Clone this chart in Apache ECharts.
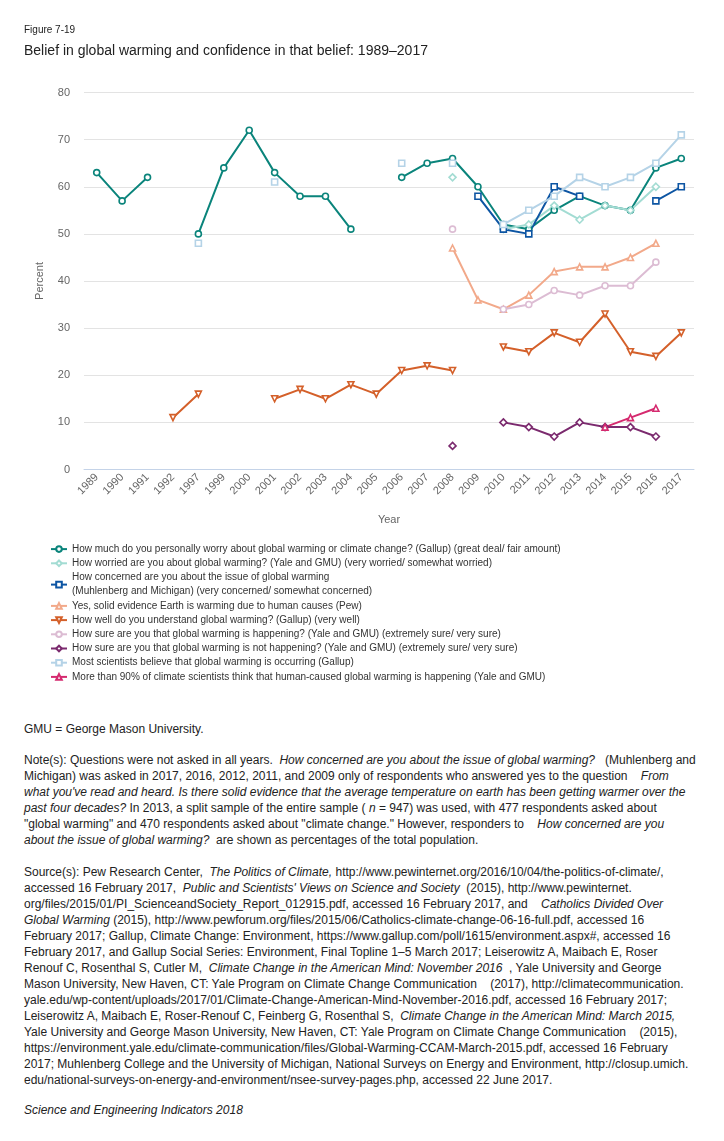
<!DOCTYPE html>
<html>
<head>
<meta charset="utf-8">
<script src="https://cdn.jsdelivr.net/npm/echarts@6/dist/echarts.min.js"></script>
<style>
html,body{margin:0;padding:0;background:#fff;}
#chart{position:absolute;left:0;top:0;width:724px;height:720px;}
#notes{position:absolute;left:24px;top:721px;width:700px;font-family:"Liberation Sans",Arial,sans-serif;font-size:12px;line-height:16px;color:#222;white-space:nowrap;}
#notes p{margin:0 0 15px 0;}
</style>
</head>
<body>
<div id="chart"></div>
<div id="notes">
<p>GMU = George Mason University.</p>
<p style="margin-bottom:16px">Note(s): Questions were not asked in all years. &nbsp;<i>How concerned are you about the issue of global warming?</i> &nbsp; (Muhlenberg and<br>
Michigan) was asked in 2017, 2016, 2012, 2011, and 2009 only of respondents who answered yes to the question &nbsp;&nbsp; <i>From</i><br>
<i>what you've read and heard. Is there solid evidence that the average temperature on earth has been getting warmer over the</i><br>
<i>past four decades?</i> In 2013, a split sample of the entire sample ( <i>n</i> = 947) was used, with 477 respondents asked about<br>
"global warming" and 470 respondents asked about "climate change." However, responders to &nbsp;&nbsp; <i>How concerned are you</i><br>
<i>about the issue of global warming?</i> &nbsp;are shown as percentages of the total population.</p>
<p style="margin-bottom:14px">Source(s): Pew Research Center, &nbsp;<i>The Politics of Climate,</i> http://www.pewinternet.org/2016/10/04/the-politics-of-climate/,<br>
accessed 16 February 2017, &nbsp;<i>Public and Scientists' Views on Science and Society</i> &nbsp;(2015), http://www.pewinternet.<br>
org/files/2015/01/PI_ScienceandSociety_Report_012915.pdf, accessed 16 February 2017, and &nbsp;&nbsp; <i>Catholics Divided Over</i><br>
<i>Global Warming</i> (2015), http://www.pewforum.org/files/2015/06/Catholics-climate-change-06-16-full.pdf, accessed 16<br>
February 2017; Gallup, Climate Change: Environment, https://www.gallup.com/poll/1615/environment.aspx#, accessed 16<br>
February 2017, and Gallup Social Series: Environment, Final Topline 1–5 March 2017; Leiserowitz A, Maibach E, Roser<br>
Renouf C, Rosenthal S, Cutler M, &nbsp;<i>Climate Change in the American Mind: November 2016</i> &nbsp;, Yale University and George<br>
Mason University, New Haven, CT: Yale Program on Climate Change Communication &nbsp;&nbsp; (2017), http://climatecommunication.<br>
yale.edu/wp-content/uploads/2017/01/Climate-Change-American-Mind-November-2016.pdf, accessed 16 February 2017;<br>
Leiserowitz A, Maibach E, Roser-Renouf C, Feinberg G, Rosenthal S, &nbsp;<i>Climate Change in the American Mind: March 2015,</i><br>
Yale University and George Mason University, New Haven, CT: Yale Program on Climate Change Communication &nbsp;&nbsp; (2015),<br>
https://environment.yale.edu/climate-communication/files/Global-Warming-CCAM-March-2015.pdf, accessed 16 February<br>
2017; Muhlenberg College and the University of Michigan, National Surveys on Energy and Environment, http://closup.umich.<br>
edu/national-surveys-on-energy-and-environment/nsee-survey-pages.php, accessed 22 June 2017.</p>
<p><i>Science and Engineering Indicators 2018</i></p>
</div>
<script>
var years = ['1989','1990','1991','1992','1997','1999','2000','2001','2002','2003','2004','2005','2006','2007','2008','2009','2010','2011','2012','2013','2014','2015','2016','2017'];
var yTicks = [0,10,20,30,40,50,60,70,80];

//                     1989 1990 1991 1992 1997 1999 2000 2001 2002 2003 2004 2005 2006 2007 2008 2009 2010 2011 2012 2013 2014 2015 2016 2017
var gallupWorry     = [63,  57,  62,  null,50,  64,  72,  63,  58,  58,  51,  null,62,  65,  66,  60,  52,  51,  55,  58,  56,  55,  64,  66];
var yaleWorried     = [null,null,null,null,null,null,null,null,null,null,null,null,null,null,62,  null,51,  52,  56,  53,  56,  55,  60,  null];
var muhlenConcern   = [null,null,null,null,null,null,null,null,null,null,null,null,null,null,null,58,  51,  50,  60,  58,  null,null,57,  60];
var pewEvidence     = [null,null,null,null,null,null,null,null,null,null,null,null,null,null,47,  36,  34,  37,  42,  43,  43,  45,  48,  null];
var gallupUnderstand= [null,null,null,11,  16,  null,null,15,  17,  15,  18,  16,  21,  22,  21,  null,26,  25,  29,  27,  33,  25,  24,  29];
var yaleSureYes     = [null,null,null,null,null,null,null,null,null,null,null,null,null,null,51,  null,34,  35,  38,  37,  39,  39,  44,  null];
var yaleSureNo      = [null,null,null,null,null,null,null,null,null,null,null,null,null,null,5,   null,10,  9,   7,   10,  9,   9,   7,   null];
var gallupScientists= [null,null,null,null,48,  null,null,61,  null,null,null,null,65,  null,65,  null,52,  55,  58,  62,  60,  62,  65,  71];
var yale90pct       = [null,null,null,null,null,null,null,null,null,null,null,null,null,null,null,null,null,null,null,null,9,   11,  13,  null];

var names = [
  'How much do you personally worry about global warming or climate change? (Gallup) (great deal/ fair amount)',
  'How worried are you about global warming? (Yale and GMU) (very worried/ somewhat worried)',
  'How concerned are you about the issue of global warming\n(Muhlenberg and Michigan) (very concerned/ somewhat concerned)',
  'Yes, solid evidence Earth is warming due to human causes (Pew)',
  'How well do you understand global warming? (Gallup) (very well)',
  'How sure are you that global warming is happening? (Yale and GMU) (extremely sure/ very sure)',
  'How sure are you that global warming is not happening? (Yale and GMU) (extremely sure/ very sure)',
  'Most scientists believe that global warming is occurring (Gallup)',
  'More than 90% of climate scientists think that human-caused global warming is happening (Yale and GMU)'
];
var colors = ['#0a847b','#a3dcd3','#0d55a3','#f2a98a','#d4602a','#dcbcd3','#7b2a6e','#b5d3e7','#d52a6f'];
var symbols = ['circle','diamond','rect','triangle','path://M0,0L10,0L5,9Z','circle','diamond','rect','triangle'];
var datas = [gallupWorry,yaleWorried,muhlenConcern,pewEvidence,gallupUnderstand,yaleSureYes,yaleSureNo,gallupScientists,yale90pct];

var series = names.map(function(n,i){
  return {
    name:n, type:'line', data:datas[i], connectNulls:false,
    symbol:symbols[i], symbolSize:(symbols[i]==='diamond'?7:6), showSymbol:true, showAllSymbol:true,
    lineStyle:{color:colors[i], width:2},
    itemStyle:{color:'#fff', borderColor:colors[i], borderWidth:1.6},
    emphasis:{disabled:true}, animation:false
  };
});

var chart = echarts.init(document.getElementById('chart'), null, {renderer:'canvas'});
chart.setOption({
  animation:false,
  textStyle:{fontFamily:'Liberation Sans, Arial, sans-serif'},
  title:[
    {text:'Figure 7-19', left:19, top:20, textStyle:{fontSize:10, fontWeight:'normal', color:'#222'}},
    {text:'Belief in global warming and confidence in that belief: 1989–2017', left:19, top:39, textStyle:{fontSize:14, fontWeight:'normal', color:'#222'}}
  ],
  grid:{left:84, right:30, top:92.5, bottom:250.5},
  xAxis:{
    type:'category', data:years, boundaryGap:true,
    name:'Year', nameLocation:'middle', nameGap:45, nameTextStyle:{color:'#666', fontSize:11},
    axisLine:{lineStyle:{color:'#c4d3e8'}},
    axisTick:{alignWithLabel:true, length:6, lineStyle:{color:'#c4d3e8'}},
    axisLabel:{rotate:45, color:'#666', fontSize:11, margin:6, interval:0}
  },
  yAxis:{
    type:'value', min:0, max:80, interval:10,
    name:'Percent', nameLocation:'middle', nameGap:39, nameTextStyle:{color:'#666', fontSize:11},
    axisLine:{show:false}, axisTick:{show:false},
    axisLabel:{color:'#666', fontSize:11, margin:14},
    splitLine:{lineStyle:{color:'#e3e3e3'}}
  },
  legend:{
    orient:'vertical', left:45, top:537, height:170, itemWidth:16, itemHeight:7, itemGap:0,
    selectedMode:false,
    textStyle:{color:'#333', fontSize:10, lineHeight:14.2, fontFamily:'Liberation Sans, Arial, sans-serif'},
    data:names
  },
  series:series
});
</script>
</body>
</html>
